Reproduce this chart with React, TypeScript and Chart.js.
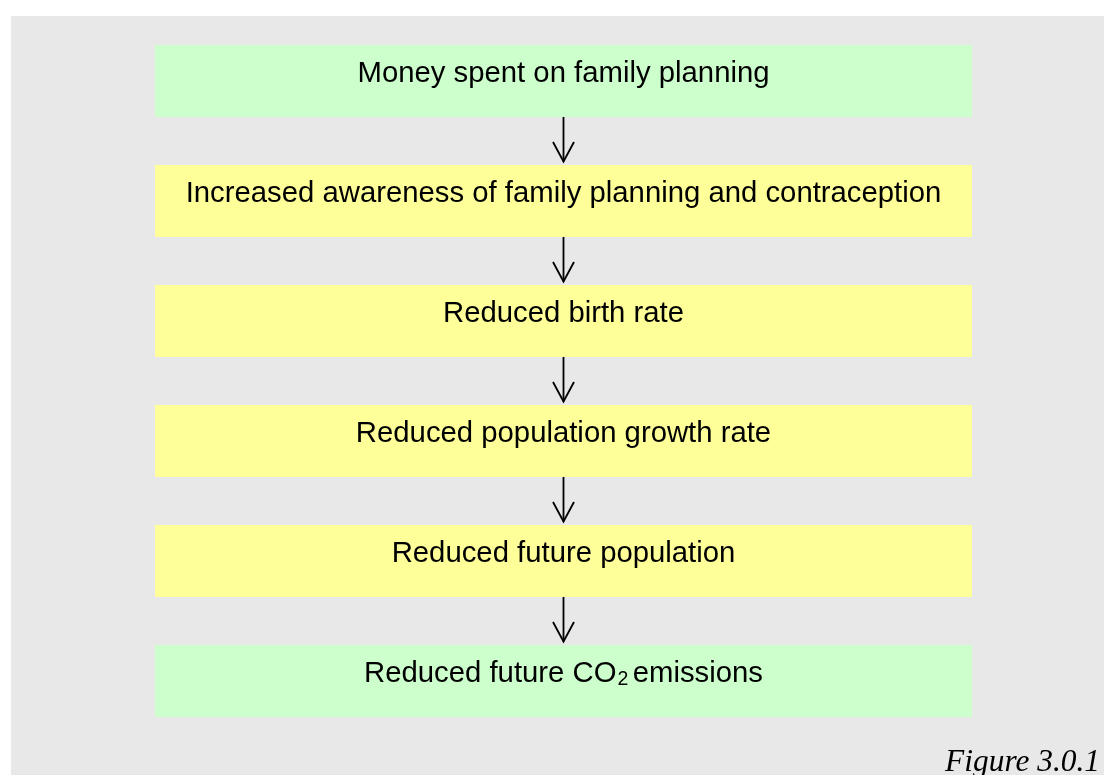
import React, { useEffect, useRef } from "react";
import { Chart, registerables } from "chart.js";

Chart.register(...registerables);

// Flowchart steps (top to bottom)
const steps: string[] = [
  "Money spent on family planning",
  "Increased awareness of family planning and contraception",
  "Reduced birth rate",
  "Reduced population growth rate",
  "Reduced future population",
  "Reduced future CO₂ emissions",
];
// Each step is drawn as a full-width box (value 1 on a 0..1 scale)
const boxValues: number[] = [1, 1, 1, 1, 1, 1];
const boxColors: string[] = ["#ccffcc", "#ffff99", "#ffff99", "#ffff99", "#ffff99", "#ccffcc"];
const caption = "Figure 3.0.1";

const BG = "#e8e8e8";
const FONT = '"Liberation Sans", Arial, Helvetica, sans-serif';

const flowPlugin = {
  id: "flowPlugin",
  beforeDraw(chart: any) {
    const ctx = chart.ctx;
    ctx.save();
    ctx.fillStyle = "#ffffff";
    ctx.fillRect(0, 0, chart.width, chart.height);
    ctx.fillStyle = BG;
    ctx.fillRect(11, 16, chart.width - 11, chart.height - 16);
    ctx.restore();
  },
  afterDatasetsDraw(chart: any) {
    const ctx = chart.ctx;
    const meta = chart.getDatasetMeta(0);
    const els = meta.data;
    ctx.save();
    // arrows
    ctx.strokeStyle = "#000";
    ctx.lineWidth = 1.8;
    ctx.lineCap = "butt";
    for (let i = 0; i < els.length - 1; i++) {
      const a = els[i];
      const b = els[i + 1];
      const cx = (a.base + a.x) / 2;
      const y0 = a.y + a.height / 2;
      const y1 = b.y - b.height / 2 - 3.5;
      ctx.beginPath();
      ctx.moveTo(cx, y0);
      ctx.lineTo(cx, y1);
      ctx.stroke();
      ctx.beginPath();
      ctx.moveTo(cx - 10.5, y1 - 19.5);
      ctx.lineTo(cx, y1);
      ctx.lineTo(cx + 10.5, y1 - 19.5);
      ctx.stroke();
    }
    // labels
    ctx.fillStyle = "#000";
    ctx.textBaseline = "alphabetic";
    ctx.textAlign = "left";
    const big = "29.3px " + FONT;
    const small = "19.5px " + FONT;
    els.forEach((el: any, i: number) => {
      const label = chart.data.labels[i] as string;
      const cx = (el.base + el.x) / 2;
      const by = el.y + 0.5;
      const parts = label.split("₂");
      if (parts.length === 1) {
        ctx.font = big;
        const w = ctx.measureText(label).width;
        ctx.fillText(label, cx - w / 2, by);
      } else {
        // subscript rendering
        ctx.font = big;
        const w1 = ctx.measureText(parts[0]).width;
        ctx.font = small;
        const w2 = ctx.measureText("2").width;
        const rest = parts[1].replace(/^ /, "");
        const hasSpace = parts[1].startsWith(" ");
        const wsp = hasSpace ? ctx.measureText(" ").width : 0;
        ctx.font = big;
        const w3 = ctx.measureText(rest).width;
        const total = w1 + w2 + wsp + w3;
        let x = cx - total / 2;
        ctx.font = big;
        ctx.fillText(parts[0], x, by);
        x += w1;
        ctx.font = small;
        ctx.fillText("2", x + 1, by + 3.5);
        x += w2 + wsp;
        ctx.font = big;
        ctx.fillText(rest, x, by);
      }
    });
    // caption
    ctx.font = 'italic 31.4px "Liberation Serif", "Times New Roman", Times, serif';
    ctx.textAlign = "right";
    ctx.fillText(caption, 1100, 771);
    ctx.restore();
  },
};

export default function App() {
  const ref = useRef<HTMLCanvasElement | null>(null);
  useEffect(() => {
    if (!ref.current) return;
    const chart = new Chart(ref.current, {
      type: "bar",
      data: {
        labels: steps,
        datasets: [
          {
            data: boxValues,
            backgroundColor: boxColors,
            borderWidth: 0,
            barPercentage: 0.6,
            categoryPercentage: 1.0,
          },
        ],
      },
      options: {
        indexAxis: "y",
        responsive: false,
        animation: false,
        layout: { padding: { left: 155, right: 132, top: 21, bottom: 34 } },
        plugins: {
          legend: { display: false },
          tooltip: { enabled: false },
          title: { display: false },
        },
        events: [],
        scales: {
          x: { type: "linear", min: 0, max: 1, display: false, grid: { display: false } },
          y: { type: "category", offset: true, display: false, grid: { display: false } },
        },
      },
      plugins: [flowPlugin],
    });
    return () => chart.destroy();
  }, []);
  return (
    <div style={{ position: "fixed", left: 0, top: 0, width: 1104, height: 775 }}>
      <canvas ref={ref} width={1104} height={775} style={{ display: "block", width: 1104, height: 775 }} />
    </div>
  );
}
